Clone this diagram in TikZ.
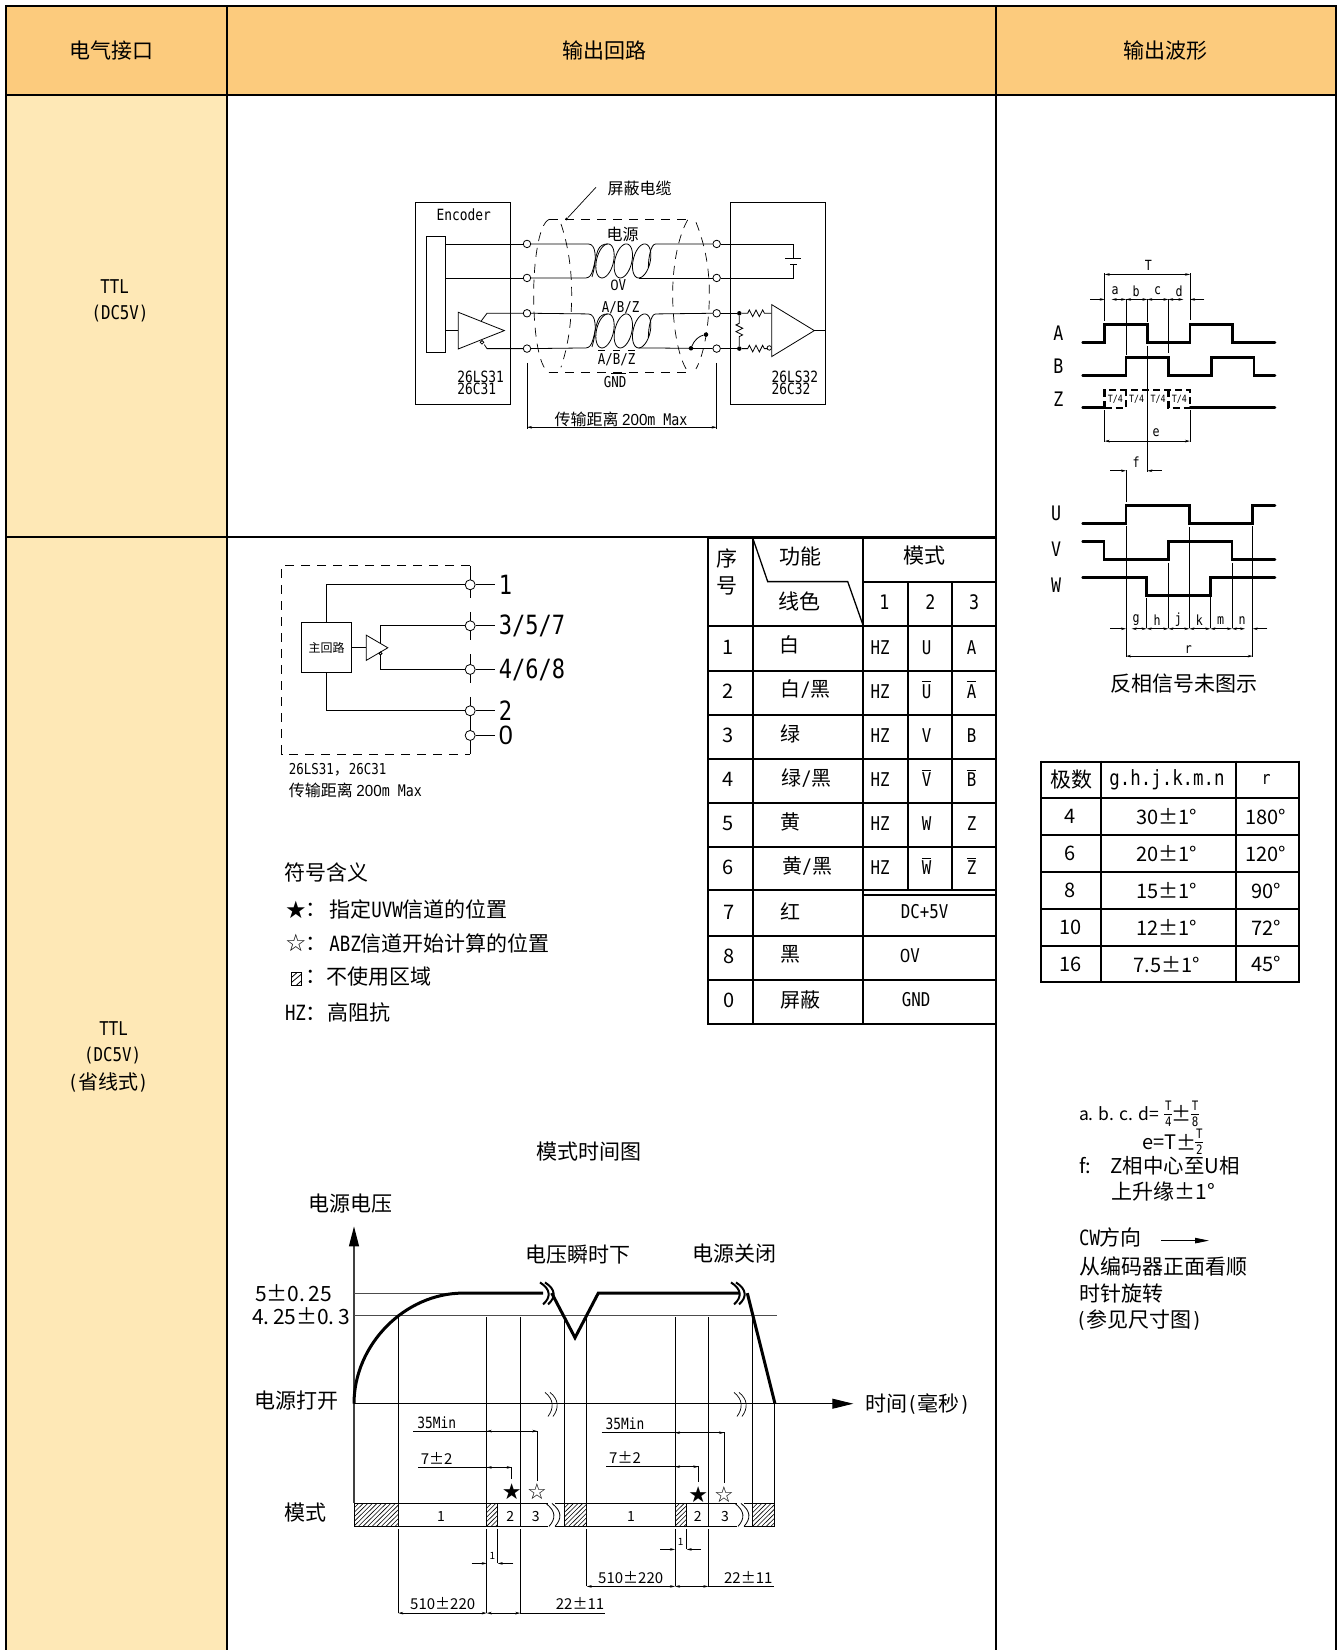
\documentclass[tikz,border=0pt]{standalone}
\usepackage{fontspec}
\setmainfont{Noto Sans CJK SC}
\newfontfamily\hw[FakeStretch=0.83]{DejaVu Sans Mono}
\newfontfamily\nz[FakeStretch=0.95]{Liberation Sans}
\newfontfamily\sy{DejaVu Sans}
\usetikzlibrary{arrows.meta}
\newcounter{lab}
\definecolor{headc}{HTML}{FCCB7D}
\definecolor{sidec}{HTML}{FEE8B6}
\newcommand\ov[1]{\leavevmode\vbox{\hrule height .9pt\kern 2.2pt\hbox{#1}}}
\newcommand\lb[3][]{\stepcounter{lab}\node[txt,#1] (lab\arabic{lab}) at (#2) {#3};}
\tikzset{
 txt/.style={inner sep=0pt,outer sep=0pt,align=center,font=\fontsize{21}{24}\selectfont},
 fs/.style={font=\fontsize{#1}{#1}\selectfont},
 la/.style={anchor=west},
 thin1/.style={line width=.8pt},
 frame/.style={line width=2pt},
 grid/.style={line width=1.8pt},
 wave/.style={line width=2.8pt,line cap=round,line join=miter},
 ar/.style={line width=.7pt,-{Stealth[length=5pt,width=2.6pt]}},
 arb/.style={line width=.7pt,{Stealth[length=5pt,width=2.6pt]}-{Stealth[length=5pt,width=2.6pt]}},
 term/.style={circle,draw,fill=white,minimum size=7.5pt,inner sep=0pt,line width=.8pt},
 bx/.style={draw,line width=1pt,inner sep=0pt,fill=white},
 dot/.style={circle,fill=black,inner sep=0pt,minimum size=4.5pt},
 shield/.style={line width=.7pt,dash pattern=on 9pt off 7pt},
 zoom/.style 2 args={shift={(#1,#2)},x=.33333pt,y=-.33333pt},
}
\begin{document}
\begin{tikzpicture}[x=1pt,y=-1pt]
\useasboundingbox (0,0) rectangle (1338,1650);
% ---------- main frame ----------
\fill[headc] (6,6) rectangle (1336,94.5);
\fill[sidec] (6,94.5) rectangle (226.5,1650);
\draw[frame] (6,1650) -- (6,6) -- (1336,6) -- (1336,1650);
\draw[frame] (6,94.5) -- (1336,94.5);
\draw[frame] (226.5,6) -- (226.5,1650);
\draw[frame] (996,6) -- (996,1650);
\draw[frame] (6,536.5) -- (996,536.5);

\begin{scope}[xshift=1pt,yshift=-.6pt]
\lb{110.5,49.5}{电气接口}
\lb{603.8,49.5}{输出回路}
\lb{1164.5,49.5}{输出波形}
\lb[fs=19]{113.7,286}{\hw TTL}
\lb[fs=19]{119,313}{\hw (DC5V)}
\lb[fs=19]{112.6,1028}{\hw TTL}
\lb[fs=19]{111.6,1055}{\hw (DC5V)}
\lb[fs=20]{107,1082}{{\hw (}省线式{\hw )}}

% ---------- circuit 1 ----------
\begin{scope}[zoom={400}{160}]
\node[bx,minimum width=95.3pt,minimum height=202pt] (enc) at (187,430) {};
\node[bx,minimum width=95.3pt,minimum height=202pt] (rcv) at (1132,430) {};
\node[bx,minimum width=19pt,minimum height=116pt] (bar) at (104.5,403) {};
\foreach \nm/\yy in {1/250,2/352,3/458,4/564}{
  \node[term] (L\nm) at (378,\yy) {};
  \node[term] (R\nm) at (947,\yy) {};
}
% twisted pairs: overlapping slanted loops with curved lead-ins
\foreach \i/\mm in {1/301,3/511}{
  \pgfmathtruncatemacro\j{\i+1}
  \foreach \cx in {612,667,722}{
    \draw[thin1] plot[domain=0:360,samples=61] ({\cx+26*cos(\x)-9*sin(\x)},{\mm+51*sin(\x)});
  }
  \draw[thin1] (L\i.east) -- (562,\mm-51) .. controls (584,\mm-51) and (590,\mm-10) .. (573,\mm+48);
  \draw[thin1] (L\j.east) -- (555,\mm+51) .. controls (578,\mm+51) and (578,\mm+5) .. (590,\mm-30) .. controls (596,\mm-46) and (606,\mm-51) .. (621,\mm-51);
  \draw[thin1] (R\i.west) -- (764,\mm-51) .. controls (750,\mm-51) and (742,\mm-10) .. (742,\mm+20);
  \draw[thin1] (R\j.west) -- (748,\mm+51) .. controls (735,\mm+51) and (728,\mm+51) .. (713,\mm+51);
}
\draw[thin1] (bar.east |- L1) -- (L1.west);
\draw[thin1] (bar.east |- L2) -- (L2.west);
% driver
\coordinate (dA) at (172,455); \coordinate (dB) at (310,510); \coordinate (dC) at (172,565);
\draw[thin1,fill=white] (dA) -- (dB) -- (dC) -- cycle;
\draw[thin1] (133,510) -- (172,510);
\draw[thin1] (240,482) -- (258,458) -- (L3.west);
\draw[thin1] (243,545) circle (1.8pt);
\draw[thin1] (250,552) -- (258,564) -- (L4.west);
% receiver
\draw[thin1] (R1.east) -- (1177,250) -- (1177,295);
\draw[line width=1pt] (1153,295) -- (1200,295);
\draw[line width=1pt] (1168,312) -- (1188,312);
\draw[thin1] (1177,312) -- (1177,352) -- (R2.east);
\node[dot] (jt) at (1015,458) {};
\node[dot] (jb) at (1015,564) {};
\draw[thin1] (R3.east) -- (jt);
\draw[thin1] (R4.east) -- (jb);
\draw[thin1] (jt) -- (1040,458) -- ++(5,-10) -- ++(10,20) -- ++(10,-20) -- ++(10,20) -- ++(10,-20) -- ++(5,10) -- (1112,458);
\draw[thin1] (jb) -- (1040,564) -- ++(5,-10) -- ++(10,20) -- ++(10,-20) -- ++(10,20) -- ++(10,-20) -- ++(5,10) -- (1098,564);
\draw[thin1] (1105,562) circle (2.2pt);
\draw[thin1] (jt) -- (1015,488) -- ++(-10,5) -- ++(20,10) -- ++(-20,10) -- ++(20,10) -- ++(-10,5) -- (jb);
\draw[thin1,fill=white] (1112,432) -- (1240,510) -- (1112,588) -- cycle;
\draw[thin1] (1240,510) -- (1275,510);
% switch
\node[dot] (sa) at (870,563) {};
\node[dot] (sb) at (915,522) {};
\draw[thin1] (sa) .. controls (880,538) and (895,526) .. (sb);
% shield
\draw[shield] (445,176) -- (870,176);
\draw[shield] (445,636) -- (870,636);
\draw[shield] (445,176) .. controls (410,190) and (398,320) .. (398,400) .. controls (398,500) and (410,620) .. (445,636);
\draw[shield] (480,190) .. controls (500,250) and (512,320) .. (512,400) .. controls (512,490) and (500,560) .. (480,620);
\draw[shield] (860,178) .. controls (830,230) and (815,320) .. (815,400) .. controls (815,490) and (830,590) .. (860,632);
\draw[shield] (885,185) .. controls (915,260) and (925,330) .. (925,400) .. controls (925,490) and (910,580) .. (885,625);
\node[dot,minimum size=3pt] (cb) at (497,175) {};
\coordinate (ld) at (585,80);
\draw[line width=.7pt] (cb) -- (ld);
% labels
\lb[fs=16]{716,84}{屏蔽电缆}
\lb[fs=15.5]{188,162}{\hw Encoder}
\lb[fs=16]{665,222}{电源}
\lb[fs=15]{652,375}{{\nz 0}{\hw V}}
\lb[fs=15]{659,440}{\hw A/B/Z}
\lb[fs=15]{647,592}{\hw\ov{A}/\ov{B}/\ov{Z}}
\lb[fs=15]{642,660}{\hw G\ov{ND}}
\lb[fs=15.5,la]{169,648}{\hw 26LS31}
\lb[fs=15.5,la]{169,686}{\hw 26C31}
\lb[fs=15.5,la]{1112,648}{\hw 26LS32}
\lb[fs=15.5,la]{1112,686}{\hw 26C32}
\lb[fs=16]{660,775}{传输距离 {\nz 200}{\hw m Max}}
\coordinate (d1t) at (378,607); \coordinate (d1b) at (378,805);
\coordinate (d2t) at (947,607); \coordinate (d2b) at (947,805);
\draw[thin1] (d1t) -- (d1b);
\draw[thin1] (d2t) -- (d2b);
\draw[arb] (378,800) -- (947,800);
\end{scope}

% ---------- waveforms ----------
\begin{scope}[zoom={1029}{239.5}]
\draw[wave] (158,307) -- (224,307) -- (224,253) -- (352,253) -- (352,307) -- (480,307) -- (480,253) -- (608,253) -- (608,307) -- (735,307);
\draw[wave] (158,405) -- (288,405) -- (288,352) -- (415,352) -- (415,405) -- (544,405) -- (544,352) -- (672,352) -- (672,405) -- (735,405);
\draw[wave] (158,503) -- (224,503);
\draw[wave] (480,503) -- (735,503);
\draw[line width=2.4pt,dash pattern=on 7pt off 4pt] (224,503) -- (224,450) -- (480,450) -- (480,503);
\draw[line width=2.4pt,dash pattern=on 7pt off 4pt] (224,503) -- (288,503) -- (288,450);
\draw[line width=2.4pt,dash pattern=on 7pt off 4pt] (415,450) -- (415,503) -- (480,503);
\draw[wave] (158,850) -- (288,850) -- (288,797) -- (478,797) -- (478,850) -- (668,850) -- (668,797) -- (735,797);
\draw[wave] (158,904) -- (222,904) -- (222,958) -- (415,958) -- (415,904) -- (606,904) -- (606,958) -- (735,958);
\draw[wave] (158,1013) -- (350,1013) -- (350,1067) -- (541,1067) -- (541,1013) -- (735,1013);
% extension lines
\draw[thin1] (224,100) -- (224,242);
\draw[thin1] (480,100) -- (480,240);
\draw[thin1] (288,178) -- (288,345);
\draw[thin1] (352,178) -- (352,245);
\draw[thin1] (352,318) -- (352,695);
\draw[thin1] (415,178) -- (415,340);
\draw[thin1] (224,510) -- (224,605);
\draw[thin1] (480,510) -- (480,605);
\draw[thin1] (288,690) -- (288,785);
\draw[thin1] (288,858) -- (288,1250);
\draw[thin1] (350,1075) -- (350,1165);
\draw[thin1] (415,968) -- (415,1165);
\draw[thin1] (478,860) -- (478,1165);
\draw[thin1] (541,1020) -- (541,1165);
\draw[thin1] (606,968) -- (606,1165);
\draw[thin1] (668,858) -- (668,1250);
% dimensions
\draw[arb] (224,103) -- (480,103);
\draw[ar] (180,178) -- (224,178);
\draw[arb] (245,178) -- (288,178);
\draw[arb] (288,178) -- (352,178);
\draw[arb] (352,178) -- (415,178);
\draw[arb] (415,178) -- (460,178);
\draw[ar] (523,178) -- (480,178);
\draw[arb] (224,603) -- (480,603);
\draw[ar] (240,692) -- (288,692);
\draw[ar] (395,692) -- (352,692);
\draw[ar] (240,1166) -- (288,1166);
\draw[arb] (305,1166) -- (350,1166);
\draw[arb] (350,1166) -- (415,1166);
\draw[arb] (415,1166) -- (478,1166);
\draw[arb] (478,1166) -- (541,1166);
\draw[arb] (541,1166) -- (606,1166);
\draw[arb] (606,1166) -- (645,1166);
\draw[ar] (712,1166) -- (668,1166);
\draw[arb] (288,1248) -- (668,1248);
% labels
\lb[fs=14]{355,75}{\hw T}
\foreach \xx/\tt in {255/a,318/b,383/c,447/d}{\lb[fs=14]{\xx,153}{\hw \tt}}
\foreach \xx in {256,320,384,448}{\lb[fs=10]{\xx,479}{\hw T/4}}
\lb[fs=14]{378,578}{\hw e}
\lb[fs=14]{318,665}{\hw f}
\foreach \xx/\tt in {318/g,381/h,445/j,508/k,572/m,636/n}{\lb[fs=14]{\xx,1140}{\hw \tt}}
\lb[fs=14]{475,1228}{\hw r}
\lb[fs=20]{85,280}{\hw A}
\lb[fs=20]{85,377}{\hw B}
\lb[fs=20]{85,478}{\hw Z}
\lb[fs=20]{78,820}{\hw U}
\lb[fs=20]{78,926}{\hw V}
\lb[fs=20]{78,1034}{\hw W}
\end{scope}
\lb{1183,683}{反相信号未图示}

% ---------- pole table ----------
\begin{scope}[xshift=1pt]
\foreach \yy in {761,797.3,834.7,871.7,908.7,945.7,981.7}{\draw[grid] (1039.3,\yy) -- (1297.3,\yy);}
\foreach \xx in {1039.3,1099,1234.3,1297.3}{\draw[grid] (\xx,760) -- (\xx,982.6);}
\lb{1069,779.3}{极数}
\lb[fs=21]{1165,779.3}{\hw g.h.j.k.m.n}
\lb[fs=18]{1264,779.3}{\hw r}
\foreach \yy/\aaa/\bbb/\ccc in {816/4/30/180,853.2/6/20/120,890.2/8/15/90,927.2/10/12/72,963.7/16/7.5/45}{
 \lb[fs=20]{1068.3,\yy}{\aaa}
 \lb[fs=20]{1165,\yy}{\bbb±1°}
 \lb[fs=20]{1264,\yy}{\ccc°}
}
\end{scope}

% ---------- pin circuit ----------
\begin{scope}[zoom={268.5}{549.5}]
\node[bx,minimum width=50.6pt,minimum height=50.3pt] (mc) at (171,293) {};
\draw[shield] (602,47) -- (37,47) -- (37,612) -- (602,612);
\draw[thin1] (602,47) -- (602,145);
\draw[thin1] (602,185) -- (602,270);
\draw[thin1] (602,312) -- (602,400);
\draw[thin1] (602,440) -- (602,612);
\foreach \nm/\yy in {a/104,b/227,c/358,d/482,e/556}{\node[term,minimum size=10pt] (P\nm) at (602,\yy) {};}
\draw[thin1] (mc.north) |- (Pa.west);
\draw[thin1] (mc.south) |- (Pd.west);
\draw[thin1] (mc.east) -- (290,293);
\draw[thin1] (290,255) -- (355,293) -- (290,331) -- cycle;
\draw[thin1] (333,278) -- (333,227) -- (Pb.west);
\draw[thin1] (333,310) circle (1.5pt);
\draw[thin1] (333,316) -- (333,358) -- (Pc.west);
\foreach \nm/\yy in {a/104,b/227,c/358,d/482,e/556}{
 \coordinate (E\nm) at (675,\yy);
 \draw[thin1] (P\nm.east) -- (E\nm);
}
\lb[fs=26.5,la]{688,104}{\hw 1}
\lb[fs=26.5,la]{688,227}{\hw 3/5/7}
\lb[fs=26.5,la]{688,358}{\hw 4/6/8}
\lb[fs=26.5,la]{688,482}{\hw 2}
\lb[fs=26.5,la]{688,556}{\nz 0}
\lb[fs=12]{171,292}{主回路}
\lb[fs=15,la]{58,660}{{\hw 26LS31}，{\hw 26C31}}
\lb[fs=16,la]{58,722}{传输距离 {\nz 200}{\hw m Max}}
\end{scope}

% ---------- legend ----------
\begin{scope}[zoom={270}{850}]
\lb[la,fs=21]{40,66}{符号含义}
\lb[la,fs=24]{42,178}{{\sy ★}}
\lb[la,fs=21]{102,178}{：}
\lb[la,fs=21]{175,178}{指定{\hw UVW}信道的位置}
\lb[la,fs=24]{42,276}{{\sy ☆}}
\lb[la,fs=21]{102,280}{：}
\lb[la,fs=21]{175,280}{{\hw ABZ}信道开始计算的位置}
\draw[thin1] (62,365) rectangle (92,405);
\draw[thin1] (62,395) -- (92,370);
\draw[thin1] (62,380) -- (77,367);
\draw[thin1] (77,403) -- (92,390);
\lb[la,fs=21]{102,380}{：}
\lb[la,fs=21]{167,378}{不使用区域}
\lb[la,fs=21]{42,486}{{\hw HZ}：}
\lb[la,fs=21]{169,486}{高阻抗}
\end{scope}

% ---------- function table ----------
\draw[grid] (707.3,537.3) -- (995,537.3);
\draw[grid] (862.3,581) -- (995,581);
\foreach \yy in {625.3,670,714,758.7,802.7,846.7,889.7,935,979.3,1023.6}{\draw[grid] (707.3,\yy) -- (995,\yy);}
\draw[grid] (862.3,894) -- (995,894);
\draw[grid] (707.3,536.5) -- (707.3,1024.5);
\draw[grid] (751.7,536.5) -- (751.7,1024.5);
\draw[grid] (862.3,536.5) -- (862.3,1024.5);
\draw[grid] (906.7,581) -- (906.7,889.7);
\draw[grid] (951,581) -- (951,889.7);
\draw[line width=1.3pt] (751.7,537.3) -- (766.7,581) -- (846.7,581) -- (862.3,625.3);
\lb{725.7,558}{序}
\lb{725.7,585}{号}
\lb{799,556}{功能}
\lb{798.3,601}{线色}
\lb{923,555}{模式}
\lb[fs=20]{883.3,601.7}{\hw 1}
\lb[fs=20]{929.3,601.7}{\hw 2}
\lb[fs=20]{973,601.7}{\hw 3}
\foreach \yy/\nm/\cc/\cxx/\uu/\vv in {
 646.7/1/白/788/U/A,
 690.7/2/白{\hw /}黑/804.7/\ov{U}/\ov{A},
 735/3/绿/789.7/V/B,
 779/4/绿{\hw /}黑/805.7/\ov{V}/\ov{B},
 823/5/黄/789.7/W/Z,
 867/6/黄{\hw /}黑/806/\ov{W}/\ov{Z}}{
 \lb[fs=20]{727,\yy}{\nm}
 \lb[fs=20]{\cxx,\yy-2}{\cc}
 \lb[fs=19]{879,\yy}{\hw HZ}
 \lb[fs=19,anchor=base]{925.7,\yy+7}{\hw \uu}
 \lb[fs=19,anchor=base]{970.7,\yy+7}{\hw \vv}
}
\lb[fs=20]{728,912}{7}
\lb[fs=20]{789,911}{红}
\lb[fs=19]{923.6,911}{\hw DC+5V}
\lb[fs=20]{728,956}{8}
\lb[fs=20]{789,954}{黑}
\lb[fs=19]{909,955}{{\nz 0}{\hw V}}
\lb[fs=20]{728,1000}{0}
\lb[fs=20]{799.5,999}{屏蔽}
\lb[fs=19]{915,999}{\hw GND}

% ---------- other text ----------
\begin{scope}[zoom={1059}{1080}]
\lb[la,fs=17.5]{57,100}{a. b. c. d=}
\lb[fs=20]{365,100}{±}
\lb[la,fs=20]{248,185}{e=T}
\lb[fs=20]{378,185}{±}
\foreach \xx/\yy/\dd in {325/100/4,405/100/8,418/185/2}{
 \lb[fs=13]{\xx,\yy-25}{\hw T}
 \lb[fs=13]{\xx,\yy+22}{\hw \dd}
 \coordinate (fa) at (\xx-12,\yy); \coordinate (fb) at (\xx+12,\yy);
 \draw[line width=.8pt] (fa) -- (fb);
}
\lb[la,fs=20]{57,256}{f:}
\lb[la,fs=20.4]{152,256}{Z相中心至U相}
\lb[la,fs=21]{155,333}{上升缘±1°}
\end{scope}
\lb[la]{1078,1237}{{\hw CW}方向}
\coordinate (cwa) at (1160,1240); \coordinate (cwb) at (1208,1240);
\draw[line width=.9pt,-{Triangle[length=14pt,width=5.5pt]}] (cwa) -- (cwb);
\lb[la]{1078,1265.5}{从编码器正面看顺}
\lb[la]{1078,1293}{时针旋转}
\lb[la]{1075,1319}{{\hw (}参见尺寸图{\hw )}}

% ---------- timing chart ----------
\begin{scope}[xshift=-1pt,yshift=1.2pt]
\lb{589,1152}{模式时间图}
\lb{350,1204}{电源电压}
\lb{577.5,1255}{电压瞬时下}
\lb{734,1254}{电源关闭}
\lb{296.7,1400.7}{电源打开}
\lb{917.7,1404.3}{时间{\hw (}毫秒{\hw )}}
\lb{305,1512.7}{模式}
\lb[fs=21,anchor=east]{332,1294}{5±0.\,25}
\lb[fs=21,anchor=east]{350,1316.7}{4.\,25±0.\,3}
% axes
\draw[line width=1.2pt,draw=black!75,-{Triangle[length=20pt,width=10pt,color=black]}] (354,1503.3) -- (354,1227);
\draw[line width=.9pt,-{Triangle[length=21pt,width=10pt]}] (354,1404.3) -- (853.3,1404.3);
\draw[thin1,draw=black!70] (354,1293.7) -- (463,1293.7);
\draw[thin1,draw=black!70] (354,1315.7) -- (776.7,1315.7);
% thick curve
\draw[line width=3pt] (354,1404.3) .. controls (354,1345) and (405,1293.7) .. (463,1293.7) -- (543,1293.7);
\draw[line width=3pt,line join=miter] (551.7,1293.7) -- (575,1338.3) -- (598.3,1293.7) -- (740,1293.7);
\draw[line width=3pt,line join=miter] (747.3,1293.7) -- (775,1404.3);
\foreach \xx/\dy in {548/0,739/0}{
 \draw[line width=2pt] (\xx-8,1283) .. controls (\xx+3,1290) and (\xx+3,1298) .. (\xx-5,1305);
 \draw[line width=2pt] (\xx-3,1283) .. controls (\xx+8,1290) and (\xx+8,1298) .. (\xx,1305);
}
\foreach \xx in {553,742}{
 \draw[line width=.7pt] (\xx-8,1393) .. controls (\xx+1,1400) and (\xx+1,1409) .. (\xx-5,1417);
 \draw[line width=.7pt] (\xx-3,1393) .. controls (\xx+6,1400) and (\xx+6,1409) .. (\xx,1417);
}
% verticals
\foreach \xx/\ya in {398.3/1315.7,486.7/1318,520.3/1318,564.3/1315.7,586.7/1315.7,675/1318,708.3/1318,752.7/1316,774.7/1404.3}{
 \draw[thin1] (\xx,\ya) -- (\xx,1503.3);
}
\foreach \xx/\yb in {398.3/1613.7,486.7/1613.7,520.3/1613.7,586.7/1587,675/1587,708.3/1587}{
 \draw[thin1] (\xx,1530) -- (\xx,\yb);
}
% mode bar
\draw[thin1] (354,1504) rectangle (774.7,1526.7);
\foreach \xa/\xb in {354/398.3,486.7/497.7,564.3/586.7,675/686.7,752.7/774.7}{
 \begin{scope}
  \clip (\xa,1504) rectangle (\xb,1526.7);
  \foreach \k in {0,4.6,...,80}{\draw[line width=.6pt] (\xa-23+\k,1526.7) -- (\xa+\k,1504);}
 \end{scope}
 \draw[thin1] (\xa,1504) rectangle (\xb,1526.7);
}
\draw[thin1] (520.3,1504) -- (520.3,1526.7);
\draw[thin1] (708.3,1504) -- (708.3,1526.7);
\foreach \xx in {546,735}{
 \fill[white] (\xx+2,1503) rectangle (\xx+9,1528);
 \draw[line width=.8pt] (\xx,1504) .. controls (\xx+10,1512) and (\xx+10,1519) .. (\xx+3,1527);
 \draw[line width=.8pt] (\xx+6,1504) .. controls (\xx+16,1512) and (\xx+16,1519) .. (\xx+9,1527);
}
\foreach \xx/\tt in {441/1,510.3/2,535.7/3,631/1,697.7/2,725/3}{\lb[fs=14]{\xx,1516.7}{\tt}}
% stars
\lb[fs=22]{511.7,1492}{\sy ★}
\lb[fs=22]{537,1492}{\sy ☆}
\lb[fs=22]{698.3,1495}{\sy ★}
\lb[fs=22]{724,1495}{\sy ☆}
% dimensions
\draw[thin1] (413.3,1431.7) -- (537.3,1431.7) -- (537.3,1481.7);
\draw[ar] (500,1431.7) -- (486.7,1431.7);
\draw[ar] (524,1431.7) -- (537.3,1431.7);
\lb[fs=15.5]{436.7,1423.3}{\hw 35Min}
\draw[thin1] (418.3,1468) -- (511.7,1468) -- (511.7,1480);
\draw[ar] (500,1468) -- (486.7,1468);
\draw[ar] (498,1468) -- (511.7,1468);
\lb[fs=15]{436.7,1459}{7±2}
\draw[thin1] (601.7,1433.3) -- (724,1433.3) -- (724,1483.3);
\draw[ar] (688,1433.3) -- (675,1433.3);
\draw[ar] (711,1433.3) -- (724,1433.3);
\lb[fs=15.5]{625,1424.3}{\hw 35Min}
\draw[thin1] (606,1467.3) -- (698.3,1467.3) -- (698.3,1483);
\draw[ar] (688,1467.3) -- (675,1467.3);
\draw[ar] (685,1467.3) -- (698.3,1467.3);
\lb[fs=15]{625,1458.3}{7±2}
\draw[thin1] (497.7,1530) -- (497.7,1564);
\draw[ar] (471.7,1564) -- (486.7,1564);
\draw[ar] (513.3,1564) -- (497.7,1564);
\lb[fs=10]{492.3,1556.7}{1}
\draw[thin1] (686.7,1530) -- (686.7,1550);
\draw[ar] (660,1550) -- (675,1550);
\draw[ar] (701,1550) -- (686.7,1550);
\lb[fs=10]{680.7,1542.3}{1}
\draw[arb] (398.3,1613.7) -- (486.7,1613.7);
\draw[arb] (486.7,1613.7) -- (520.3,1613.7);
\draw[thin1] (520.3,1613.7) -- (605,1613.7);
\lb[fs=15]{442.7,1604}{510±220}
\lb[fs=15]{580,1604}{22±11}
\draw[arb] (586.7,1587) -- (675,1587);
\draw[arb] (675,1587) -- (708.3,1587);
\draw[thin1] (708.3,1587) -- (774,1587);
\lb[fs=15]{630.7,1577.7}{510±220}
\lb[fs=15]{748.3,1577.7}{22±11}
\end{scope}
\end{scope}
\end{tikzpicture}
\end{document}
